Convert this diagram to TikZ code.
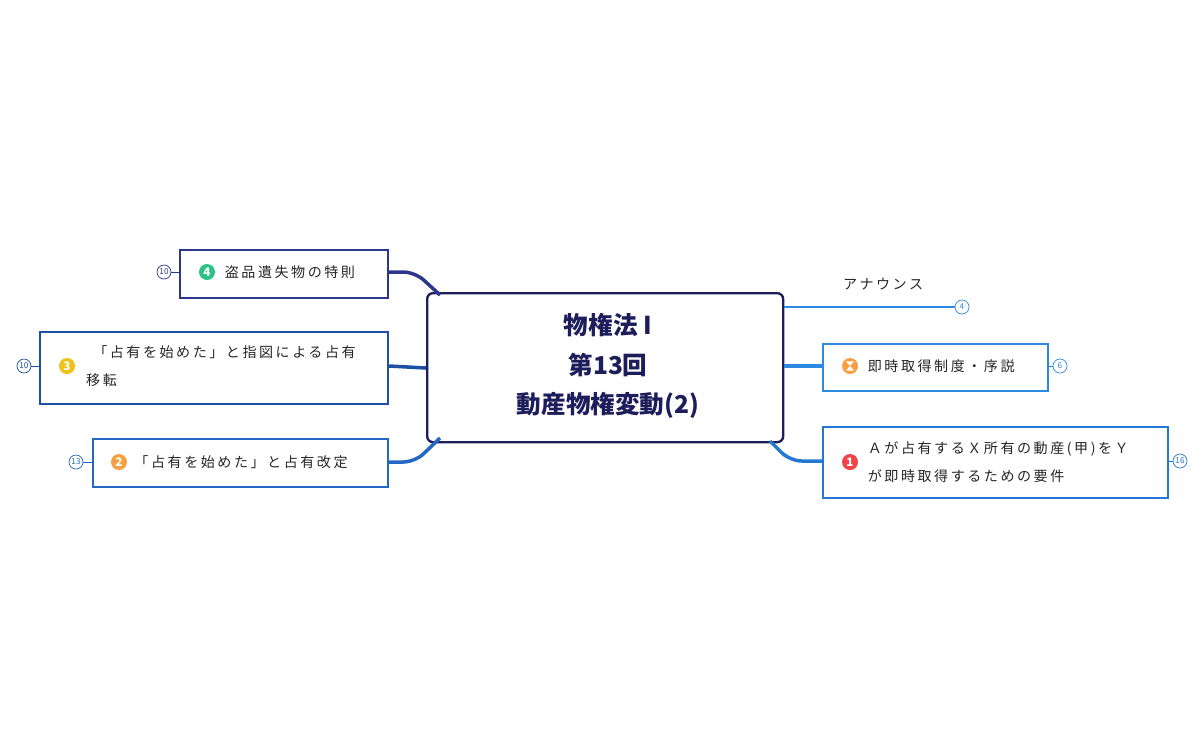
\documentclass[tikz,border=0pt]{standalone}
\usepackage{fontspec}
\setmainfont{Noto Sans CJK JP}
\newfontfamily\lblfont{Noto Sans CJK JP}[LetterSpace=18]
\usetikzlibrary{positioning}
\definecolor{navy}{HTML}{1E1D5C}
\definecolor{blueA}{HTML}{2B378C}
\definecolor{blueB}{HTML}{1D4FA3}
\definecolor{blueC}{HTML}{2468C4}
\definecolor{blueD}{HTML}{2C8AE2}
\definecolor{blueE}{HTML}{2477D2}
\definecolor{redI}{HTML}{F0444A}
\definecolor{orangeI}{HTML}{F5A043}
\definecolor{yellowI}{HTML}{EEC21A}
\definecolor{greenI}{HTML}{2DC285}
\begin{document}
\begin{tikzpicture}[
  x=0.03cm, y=-0.03cm,
  topic/.style={rectangle, draw, line width=1.6pt, anchor=north west, inner sep=0pt, fill=white},
  badge/.style={circle, draw, line width=0.6pt, minimum size=0.42cm, inner sep=0pt, font=\fontsize{7}{7}\selectfont, fill=white},
  icon/.style={circle, fill, minimum size=0.48cm, inner sep=0pt, text=white, font=\bfseries\fontsize{10}{10}\selectfont},
  lbl/.style={font=\lblfont\fontsize{12}{24}\selectfont, align=left, anchor=west, text=black!85, inner sep=0pt},
  branch/.style={line width=3pt, rounded corners=10pt}
]
\useasboundingbox (0,0) rectangle (1204,745);

% central topic
\node[rectangle, draw=navy, line width=2pt, rounded corners=5pt, minimum width=356*0.03cm, minimum height=149*0.03cm, anchor=north west, fill=white] (root) at (426,292) {};
\node[text=navy, font=\bfseries\fontsize{21}{34}\selectfont, align=center] (title) at (608,366) {物権法 I\\第13回\\動産物権変動(2)};

% left topics
\node[topic, draw=blueA, minimum width=208*0.03cm, minimum height=48*0.03cm] (stolen) at (179,249) {};
\node[icon, fill=greenI] (ic4) at (207,272) {4};
\node[lbl, right=8pt of ic4] (t4) {盗品遺失物の特則};
\node[badge, draw=blueA, text=blueA] (b4) at (164,272) {10};

\node[topic, draw=blueB, minimum width=348*0.03cm, minimum height=72*0.03cm] (order) at (39,331) {};
\node[icon, fill=yellowI] (ic3) at (67,366) {3};
\node[lbl] (t3) at (86,366) {\hspace*{6pt}「占有を始めた」と指図による占有\\移転};
\node[badge, draw=blueB, text=blueB] (b3) at (24,366) {10};

\node[topic, draw=blueC, minimum width=295*0.03cm, minimum height=48*0.03cm] (change) at (92,438) {};
\node[icon, fill=orangeI] (ic2) at (119,462) {2};
\node[lbl, right=6pt of ic2] (t2) {「占有を始めた」と占有改定};
\node[badge, draw=blueC, text=blueC] (b2) at (76,462) {13};

% right topics
\node[lbl] (ann) at (843,284) {アナウンス};
\coordinate (annend) at (955,307);
\node[badge, draw=blueD, text=blueD] (b0) at (962,307) {4};

\node[topic, draw=blueD, minimum width=225*0.03cm, minimum height=47*0.03cm] (intro) at (822,343) {};
\node[icon, fill=orangeI] (ic0) at (850,366) {};
\fill[white] ([shift={(-3.5pt,-4pt)}]ic0.center) -- ++(7pt,0) -- ++(-3.5pt,4pt) -- ++(3.5pt,4pt) -- ++(-7pt,0) -- ++(3.5pt,-4pt) -- cycle;
\node[lbl, right=8pt of ic0] (t0) {即時取得制度・序説};
\node[badge, draw=blueD, text=blueD] (b1) at (1060,366) {6};

\node[topic, draw=blueE, minimum width=345*0.03cm, minimum height=71*0.03cm] (req) at (822,426) {};
\node[icon, fill=redI] (ic1) at (850,462) {1};
\node[lbl, right=8pt of ic1] (t1) {Ａが占有するＸ所有の動産(甲)をＹ\\が即時取得するための要件};
\node[badge, draw=blueE, text=blueE] (b5) at (1180,461) {16};

% branches
\draw[branch, blueA] (stolen.east |- 0,272) -- (415,272) -- (440,295);
\draw[branch, blueB] (order.east |- 0,366) -- (426,368);
\draw[branch, blueC] (change.east |- 0,462) -- (415,462) -- (440,438);
\draw[branch, blueD, line width=2pt] (root.east |- 0,307) -- (annend);
\draw[branch, blueD] (root.east |- 0,366) -- (intro.west |- 0,366);
\draw[branch, blueE] (770,441) -- (790,461) -- (req.west |- 0,461);
\draw[blueA, line width=0.8pt] (b4) -- (stolen.west |- b4);
\draw[blueB, line width=0.8pt] (b3) -- (order.west |- b3);
\draw[blueC, line width=0.8pt] (b2) -- (change.west |- b2);
\draw[blueD, line width=0.8pt] (b1) -- (intro.east |- b1);
\draw[blueE, line width=0.8pt] (b5) -- (req.east |- b5);
\end{tikzpicture}
\end{document}
